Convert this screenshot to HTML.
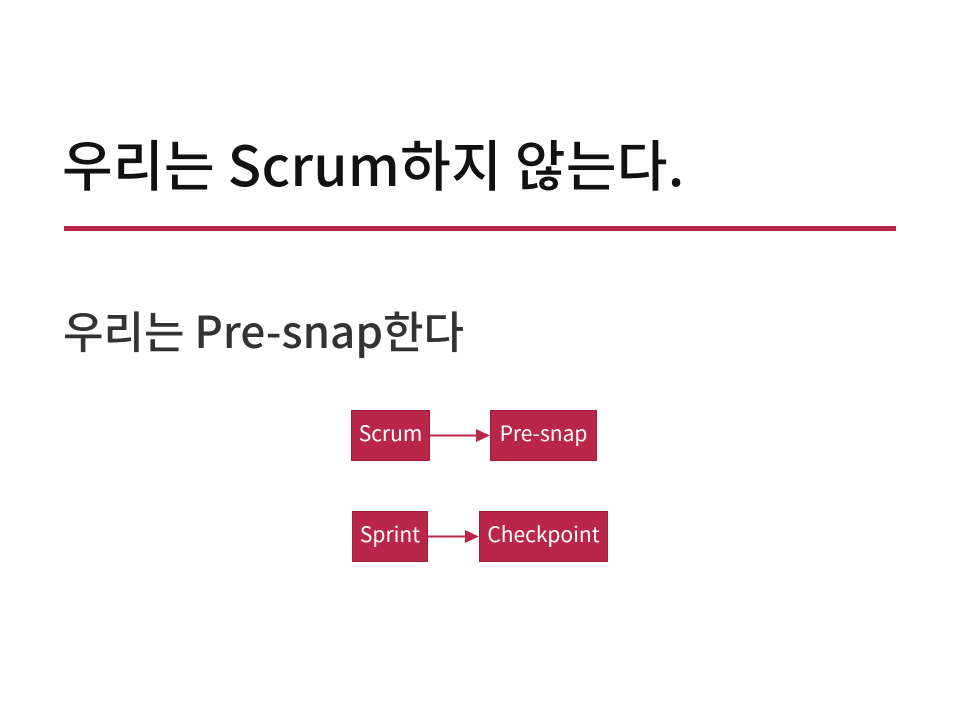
<!DOCTYPE html>
<html><head><meta charset="utf-8"><style>
body{margin:0;width:960px;height:720px;background:#fff;position:relative;overflow:hidden;font-family:"Noto Sans CJK KR",sans-serif}
.t{position:absolute;left:62px;top:122px;font-size:55px;font-weight:500;color:#111;white-space:nowrap;line-height:80px;letter-spacing:0.4px}
.l{position:absolute;left:64px;top:226px;width:832px;height:5px;background:#BA2649}
.s{position:absolute;left:63px;top:297px;font-size:44px;font-weight:500;color:#333;white-space:nowrap;line-height:64px}
.b{position:absolute;background:#BA2649;color:#fff;font-size:21px;display:flex;align-items:center;justify-content:center;height:51px;box-sizing:border-box;border:1px solid #a01d3c;padding-bottom:5px}
</style></head><body>
<div class="t">우리는 Scrum하지 않는다.</div>
<div class="l"></div>
<div class="s">우리는 Pre-snap한다</div>
<div class="b" style="left:351px;top:410px;width:79px">Scrum</div>
<div class="b" style="left:490px;top:410px;width:107px">Pre-snap</div>
<div class="b" style="left:352px;top:511px;width:76px">Sprint</div>
<div class="b" style="left:479px;top:511px;width:129px">Checkpoint</div>
<svg width="960" height="720" style="position:absolute;left:0;top:0">
<line x1="430" y1="435.5" x2="478" y2="435.5" stroke="#BA2649" stroke-width="2"/>
<polygon points="476,429 490,435.5 476,442" fill="#BA2649"/>
<line x1="428" y1="536.5" x2="467" y2="536.5" stroke="#BA2649" stroke-width="2"/>
<polygon points="465,530 479,536.5 465,543" fill="#BA2649"/>
</svg>
</body></html>
